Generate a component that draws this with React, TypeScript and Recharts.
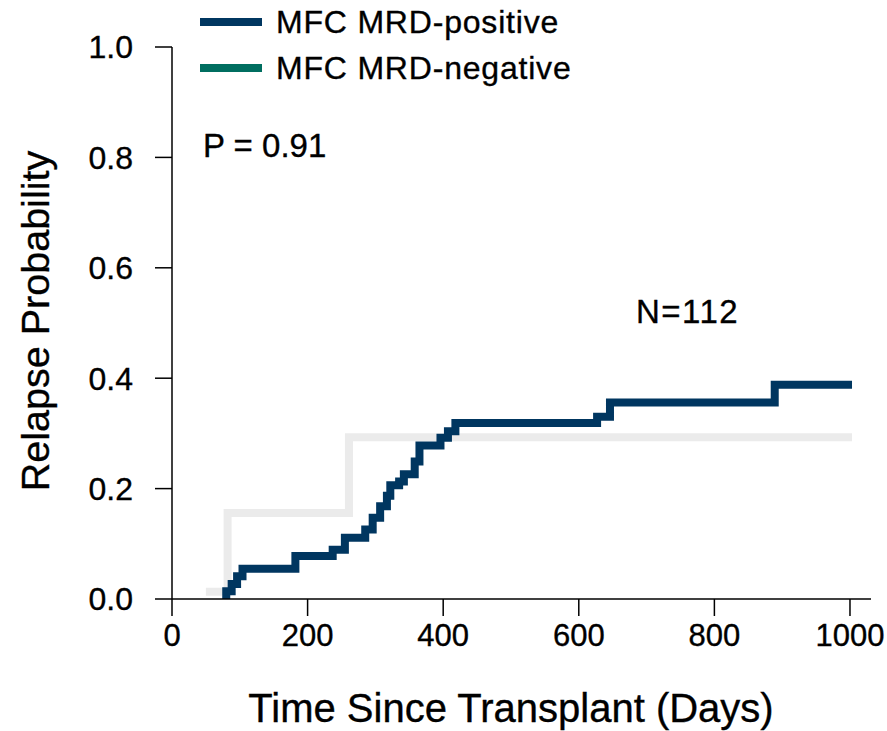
import React from "react";
import { Line, LineChart, XAxis, YAxis } from "recharts";

// cumulative incidence of relapse, [day, probability] at each step
const positiveDays = [80, 80, 88, 96, 104, 182, 237, 255, 285, 296, 307, 317, 322, 335, 342, 358, 365, 396, 407, 418, 627, 646, 889, 1003];
const positiveProb = [0, 0.014, 0.027, 0.041, 0.055, 0.078, 0.089, 0.111, 0.126, 0.147, 0.168, 0.187, 0.206, 0.213, 0.226, 0.249, 0.278, 0.292, 0.304, 0.319, 0.33, 0.356, 0.388, 0.388];

const negativeDays = [50, 82, 261, 1003];
const negativeProb = [0.013, 0.156, 0.293, 0.293];

const xTicks = [0, 200, 400, 600, 800, 1000];
const yTicks = [0, 0.2, 0.4, 0.6, 0.8, 1.0];

const seriesNames = ["MFC MRD-positive", "MFC MRD-negative"];
const pValueText = "P = 0.91";
const nText = "N=112";

const POS_COLOR = "#003660";
const NEG_COLOR = "#ebebeb";
const NEG_LEGEND = "#006e60";
const FONT = "Liberation Sans, Arial, sans-serif";

// a thin outline makes the text a touch heavier
const textStyle = { fontFamily: FONT, fill: "#000", stroke: "#000", strokeWidth: 0.35 };

const positiveData = positiveDays.map((d, i) => ({ day: d, p: positiveProb[i] }));
const negativeData = negativeDays.map((d, i) => ({ day: d, p: negativeProb[i] }));

export default function App() {
  return (
    <div style={{ position: "absolute", left: 0, top: 0, background: "#fff" }}>
      <LineChart
        width={887}
        height={731}
        margin={{ top: 47, right: 16, bottom: 0, left: 0 }}
        style={{ fontFamily: FONT }}
      >
        <XAxis
          dataKey="day"
          type="number"
          domain={[0, 1031]}
          ticks={xTicks}
          allowDataOverflow
          height={132}
          tickSize={17}
          tickMargin={8}
          stroke="#000"
          strokeWidth={1.5}
          tick={{ ...textStyle, fontSize: 31 }}
        />
        <YAxis
          type="number"
          domain={[0, 1]}
          ticks={yTicks}
          width={172}
          tickSize={17}
          tickMargin={22}
          stroke="#000"
          strokeWidth={1.5}
          tickFormatter={(v: number) => v.toFixed(1)}
          tick={{ ...textStyle, fontSize: 32 }}
        />
        <Line
          data={negativeData}
          dataKey="p"
          type="stepAfter"
          stroke={NEG_COLOR}
          strokeWidth={8}
          dot={false}
          activeDot={false}
          isAnimationActive={false}
        />
        <Line
          data={positiveData}
          dataKey="p"
          type="stepAfter"
          stroke={POS_COLOR}
          strokeWidth={8}
          dot={false}
          activeDot={false}
          isAnimationActive={false}
        />

        {/* legend */}
        <line x1={200} x2={262} y1={22} y2={22} stroke={POS_COLOR} strokeWidth={8} />
        <line x1={200} x2={262} y1={68} y2={68} stroke={NEG_LEGEND} strokeWidth={8} />
        <text x={276} y={33} fontSize={32} letterSpacing={0.8} style={textStyle}>
          {seriesNames[0]}
        </text>
        <text x={276} y={79} fontSize={32} letterSpacing={0.8} style={textStyle}>
          {seriesNames[1]}
        </text>

        {/* annotations */}
        <text x={203} y={157} fontSize={33} style={textStyle}>
          {pValueText}
        </text>
        <text x={636} y={323} fontSize={33} letterSpacing={1.5} style={textStyle}>
          {nText}
        </text>

        {/* axis titles */}
        <text x={511} y={722} fontSize={40} textAnchor="middle" style={textStyle}>
          Time Since Transplant (Days)
        </text>
        <text
          x={49}
          y={321}
          fontSize={39.5}
          textAnchor="middle"
          transform="rotate(-90 49 321)"
          style={textStyle}
        >
          Relapse Probability
        </text>
      </LineChart>
    </div>
  );
}
